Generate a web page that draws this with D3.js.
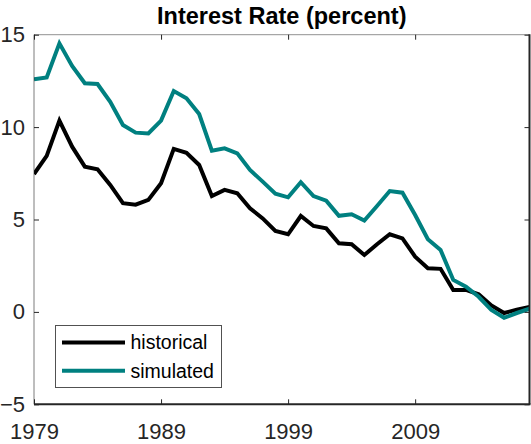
<!DOCTYPE html>
<html>
<head>
<meta charset="utf-8">
<script src="https://cdn.jsdelivr.net/npm/d3@7/dist/d3.min.js"></script>
<style>
  html, body { margin: 0; padding: 0; background: #fff; }
  svg { display: block; }
  text { font-family: "Liberation Sans", Arial, Helvetica, sans-serif; }
</style>
</head>
<body>
<script>
// Annual observations
const years = [1979, 1980, 1981, 1982, 1983, 1984, 1985, 1986, 1987, 1988,
               1989, 1990, 1991, 1992, 1993, 1994, 1995, 1996, 1997, 1998,
               1999, 2000, 2001, 2002, 2003, 2004, 2005, 2006, 2007, 2008,
               2009, 2010, 2011, 2012, 2013, 2014, 2015, 2016, 2017, 2018];

const historical = [7.46, 8.44, 10.35, 8.94, 7.86, 7.72, 6.87, 5.88, 5.80, 6.06,
                    6.96, 8.82, 8.61, 7.95, 6.27, 6.60, 6.42, 5.61, 5.06, 4.38,
                    4.20, 5.19, 4.65, 4.52, 3.71, 3.66, 3.08, 3.66, 4.20, 3.98,
                    2.99, 2.36, 2.33, 1.19, 1.19, 0.95, 0.35, -0.06, 0.12, 0.27];

const simulated = [12.59, 12.69, 14.53, 13.31, 12.37, 12.33, 11.37, 10.11, 9.70, 9.66,
                   10.35, 11.95, 11.56, 10.71, 8.72, 8.85, 8.58, 7.68, 7.05, 6.40,
                   6.20, 7.02, 6.27, 6.02, 5.20, 5.28, 4.94, 5.73, 6.54, 6.45,
                   5.24, 3.93, 3.35, 1.73, 1.36, 0.82, 0.10, -0.32, -0.06, 0.17];

const xTicks = [1979, 1989, 1999, 2009];
const yTicks = [-5, 0, 5, 10, 15];
const seriesNames = ["historical", "simulated"];
const seriesColors = ["#000000", "#008080"];
const titleText = "Interest Rate (percent)";

const W = 531, H = 444;
const plotL = 34, plotR = 529.5, plotT = 34.7, plotB = 404.3;

const svg = d3.select("body").append("svg")
  .attr("width", W).attr("height", H);

const x = d3.scaleLinear().domain([1979, 2018]).range([plotL, plotR]);
const y = d3.scaleLinear().domain([-5, 15]).range([plotB, plotT]);

const axisColor = "#262626";
const tickFont = 22;

// Clip region for the plotted lines
svg.append("defs").append("clipPath").attr("id", "plotClip")
  .append("rect")
  .attr("x", plotL).attr("y", plotT)
  .attr("width", plotR - plotL).attr("height", plotB - plotT);

// Data lines
const line = d3.line()
  .x((d, i) => x(years[i]))
  .y(d => y(d));

const seriesData = [historical, simulated];
svg.append("g").attr("clip-path", "url(#plotClip)")
  .selectAll("path")
  .data(seriesData)
  .join("path")
  .attr("d", d => line(d))
  .attr("fill", "none")
  .attr("stroke", (d, i) => seriesColors[i])
  .attr("stroke-width", 4)
  .attr("stroke-linejoin", "miter")
  .attr("stroke-miterlimit", 4);

// Axes: inward ticks on all four sides, labels on bottom and left
function styleAxis(g) {
  g.select(".domain").remove();
  g.selectAll(".tick line").attr("stroke", axisColor).attr("stroke-width", 1);
  g.selectAll("text")
    .attr("fill", axisColor)
    .attr("font-size", tickFont)
    .style("font-family", "'Liberation Sans', Arial, sans-serif");
}

svg.append("g")
  .attr("transform", `translate(0,${plotB})`)
  .call(d3.axisBottom(x).tickValues(xTicks).tickFormat(d3.format("d"))
        .tickSizeInner(-5).tickSizeOuter(0).tickPadding(19))
  .call(styleAxis);

svg.append("g")
  .attr("transform", `translate(0,${plotT})`)
  .call(d3.axisTop(x).tickValues(xTicks).tickFormat("")
        .tickSizeInner(-5).tickSizeOuter(0))
  .call(styleAxis);

svg.append("g")
  .attr("transform", `translate(${plotL},0)`)
  .call(d3.axisLeft(y).tickValues(yTicks).tickFormat(d3.format("d"))
        .tickSizeInner(-5).tickSizeOuter(0).tickPadding(9))
  .call(styleAxis);

svg.append("g")
  .attr("transform", `translate(${plotR},0)`)
  .call(d3.axisRight(y).tickValues(yTicks).tickFormat("")
        .tickSizeInner(-5).tickSizeOuter(0))
  .call(styleAxis);

// Axes box
svg.append("line").attr("x1", plotL).attr("x2", plotL).attr("y1", plotT).attr("y2", plotB)
  .attr("stroke", axisColor).attr("stroke-width", 1).attr("stroke-opacity", 0.6);
svg.append("line").attr("x1", plotL).attr("x2", plotR).attr("y1", plotT).attr("y2", plotT)
  .attr("stroke", axisColor).attr("stroke-width", 1).attr("stroke-opacity", 0.5);
svg.append("line").attr("x1", plotL).attr("x2", plotR + 1).attr("y1", plotB).attr("y2", plotB)
  .attr("stroke", axisColor).attr("stroke-width", 2);
svg.append("line").attr("x1", plotR).attr("x2", plotR).attr("y1", plotT - 0.5).attr("y2", plotB)
  .attr("stroke", axisColor).attr("stroke-width", 2);

// Title
svg.append("text")
  .attr("x", (plotL + plotR) / 2).attr("y", 24.4)
  .attr("text-anchor", "middle")
  .attr("font-size", 23.5)
  .attr("font-weight", "bold")
  .attr("fill", "#000")
  .text(titleText);

// Legend
const lg = svg.append("g");
lg.append("rect")
  .attr("x", 55.5).attr("y", 325.5).attr("width", 166).attr("height", 62)
  .attr("fill", "#fff").attr("stroke", axisColor).attr("stroke-opacity", 0.8).attr("stroke-width", 1);
const legendRows = [342.6, 370.8];
seriesNames.forEach((name, i) => {
  lg.append("line")
    .attr("x1", 62).attr("x2", 125)
    .attr("y1", legendRows[i]).attr("y2", legendRows[i])
    .attr("stroke", seriesColors[i]).attr("stroke-width", 4);
  lg.append("text")
    .attr("x", 130.5).attr("y", legendRows[i])
    .attr("dy", "0.35em")
    .attr("font-size", 19.5)
    .attr("fill", "#000")
    .text(name);
});
</script>
</body>
</html>
